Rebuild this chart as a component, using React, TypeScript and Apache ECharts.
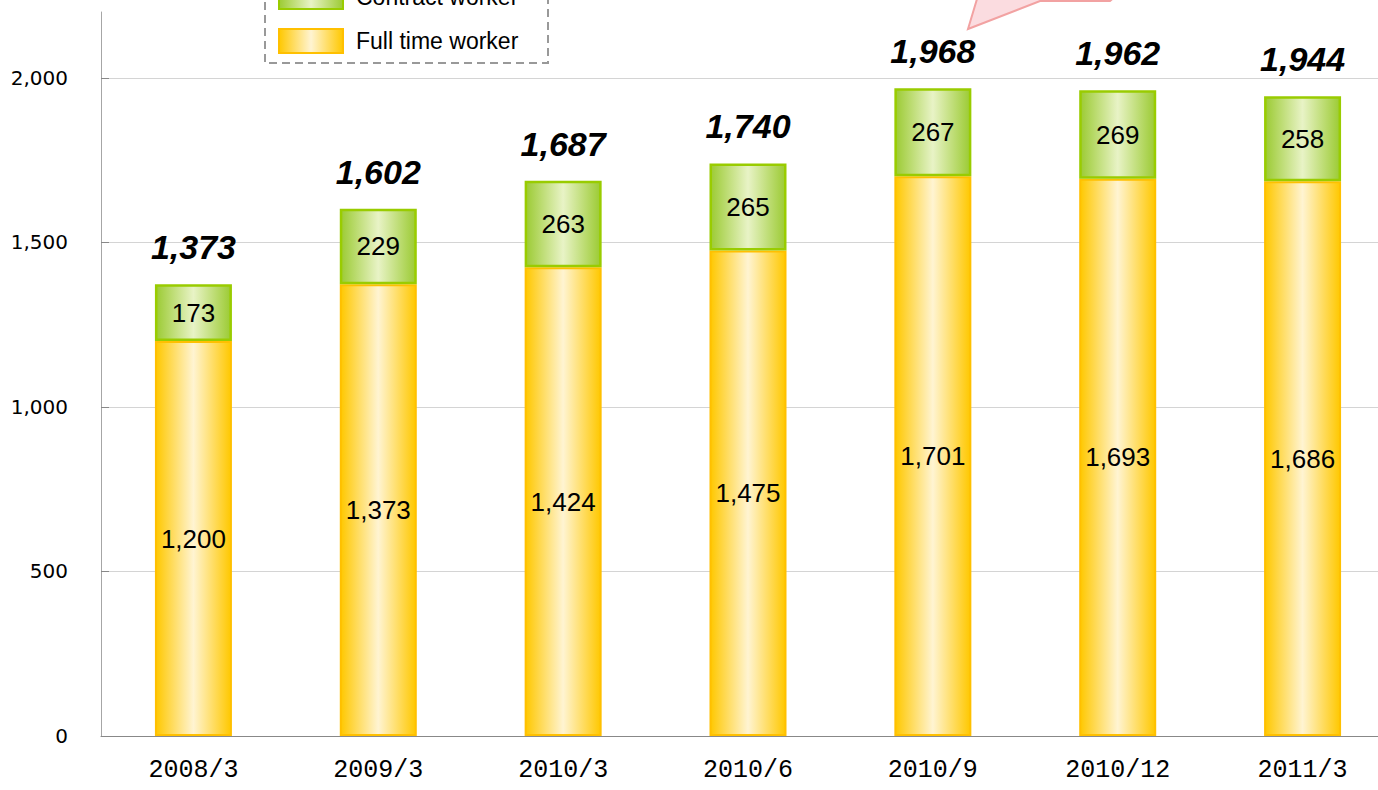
import React, { useEffect, useRef } from 'react';
import * as echarts from 'echarts';

const categories = ['2008/3', '2009/3', '2010/3', '2010/6', '2010/9', '2010/12', '2011/3'];
const fullTimeWorker = [1200, 1373, 1424, 1475, 1701, 1693, 1686];
const contractWorker = [173, 229, 263, 265, 267, 269, 258];
const totalWorkers = [1373, 1602, 1687, 1740, 1968, 1962, 1944];
const legendNames = ['Contract worker', 'Full time worker'];

const fmt = (v: number) => v.toLocaleString('en-US');

const yellowGrad = new echarts.graphic.LinearGradient(0, 0, 1, 0, [
  { offset: 0, color: '#FFC800' },
  { offset: 0.5, color: '#FFF4D2' },
  { offset: 1, color: '#FFC800' },
]);
const greenGrad = new echarts.graphic.LinearGradient(0, 0, 1, 0, [
  { offset: 0, color: '#9CCB34' },
  { offset: 0.5, color: '#E8F3C6' },
  { offset: 1, color: '#9CCB34' },
]);

export default function App() {
  const ref = useRef<HTMLDivElement>(null);
  useEffect(() => {
    if (!ref.current) return;
    const chart = echarts.init(ref.current, undefined, { renderer: 'svg' });
    chart.setOption({
      animation: false,
      backgroundColor: '#fff',
      grid: { left: 101, top: 12, width: 1294, height: 724 },
      legend: {
        data: legendNames,
        orient: 'vertical',
        left: 278,
        top: -16,
        padding: 0,
        itemWidth: 64,
        itemHeight: 24,
        itemGap: 18,
        icon: 'rect',
        textStyle: {
          fontSize: 23,
          fontFamily: 'Liberation Sans, Arial, sans-serif',
          color: '#000',
          padding: [0, 0, 0, 8],
        },
        z: 5,
      },
      xAxis: {
        type: 'category',
        data: categories,
        axisLine: { lineStyle: { color: '#888', width: 1 } },
        axisTick: { inside: true, length: 8, lineStyle: { color: '#888' } },
        axisLabel: {
          fontFamily: 'Liberation Mono, monospace',
          fontSize: 25,
          color: '#000',
          margin: 22,
        },
      },
      yAxis: {
        type: 'value',
        min: 0,
        max: 2200,
        interval: 500,
        axisLine: { show: true, lineStyle: { color: '#A6A6A6' } },
        axisTick: { show: true, inside: true, length: 8, lineStyle: { color: '#888' } },
        splitLine: { showMaxLine: false, lineStyle: { color: '#D4D4D4' } },
        axisLabel: {
          showMaxLabel: false,
          formatter: (v: number) => (v > 2000 ? '' : fmt(v)),
          fontFamily: 'DejaVu Sans, sans-serif',
          fontSize: 20,
          color: '#000',
          margin: 33,
        },
      },
      series: [
        {
          name: 'Full time worker',
          type: 'bar',
          stack: 'total',
          barWidth: 77,
          data: fullTimeWorker,
          itemStyle: { color: yellowGrad, borderColor: '#FFC000', borderWidth: 2 },
          label: {
            show: true,
            position: 'inside',
            formatter: (p: any) => fmt(p.value),
            fontSize: 26,
            fontFamily: 'Liberation Sans, Arial, sans-serif',
            color: '#000',
          },
        },
        {
          name: 'Contract worker',
          type: 'bar',
          stack: 'total',
          barWidth: 77,
          data: contractWorker,
          itemStyle: { color: greenGrad, borderColor: '#99CC00', borderWidth: 2.5 },
          label: {
            show: true,
            position: 'inside',
            formatter: (p: any) => fmt(p.value),
            fontSize: 26,
            fontFamily: 'Liberation Sans, Arial, sans-serif',
            color: '#000',
          },
        },
        {
          name: 'Total',
          type: 'scatter',
          data: totalWorkers,
          symbolSize: 0,
          silent: true,
          itemStyle: { opacity: 1 },
          label: {
            show: true,
            position: 'top',
            distance: 20,
            opacity: 1,
            formatter: (p: any) => fmt(p.value),
            fontSize: 34,
            fontWeight: 'bold',
            fontStyle: 'italic',
            fontFamily: 'Liberation Sans, Arial, sans-serif',
            color: '#000',
          },
        },
      ],
      graphic: [
        {
          type: 'rect',
          z: 1,
          shape: { x: 265, y: -20, width: 283, height: 83 },
          style: { fill: '#fff', stroke: '#999', lineWidth: 2, lineDash: [8, 5] },
        },
        {
          type: 'polygon',
          z: 10,
          shape: {
            points: [
              [955, -12],
              [977, -1],
              [968, 29],
              [1040, 1],
              [1110, 1],
              [1125, -12],
            ],
          },
          style: { fill: '#FBDCE0', stroke: '#F2A2A2', lineWidth: 2 },
        },
      ],
    });
    return () => chart.dispose();
  }, []);
  return (
    <div
      style={{
        position: 'absolute',
        left: 0,
        top: 0,
        width: 1378,
        height: 790,
        overflow: 'hidden',
        background: '#fff',
      }}
    >
      <div ref={ref} style={{ width: 1410, height: 790 }} />
    </div>
  );
}
